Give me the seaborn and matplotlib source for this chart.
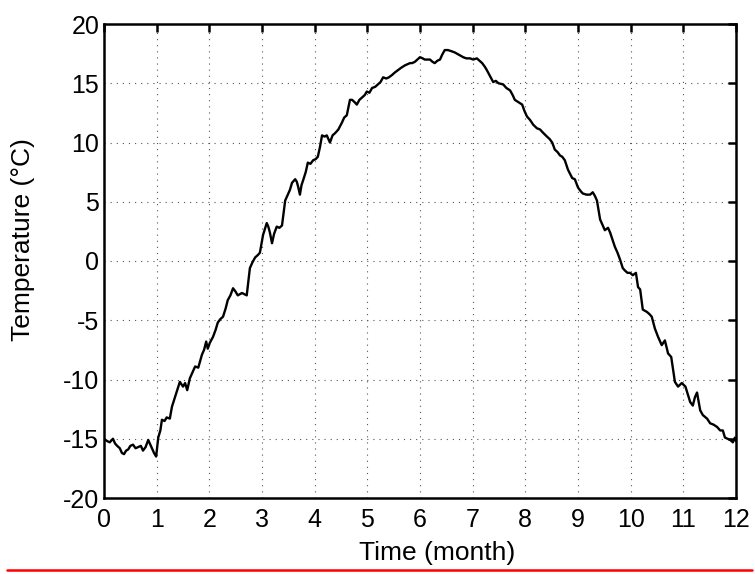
import matplotlib
matplotlib.use("Agg")
import matplotlib.pyplot as plt
from matplotlib.lines import Line2D
import seaborn as sns
import pandas as pd

# Temperature trace over one year
month = [
    0.00, 0.06, 0.11, 0.17, 0.21, 0.25, 0.30, 0.34, 0.38, 0.42, 0.46, 0.50, 0.55, 0.60,
    0.65, 0.70, 0.74, 0.79, 0.84, 0.88, 0.91, 0.95, 0.99,
    1.03, 1.07, 1.10, 1.15, 1.19, 1.25, 1.29, 1.34, 1.39, 1.44, 1.50, 1.54, 1.58, 1.63,
    1.68, 1.73, 1.79, 1.86, 1.90, 1.94, 1.97, 2.01, 2.07, 2.12, 2.16, 2.21, 2.26, 2.31,
    2.35, 2.40, 2.45, 2.50, 2.54, 2.62, 2.71,
    2.77, 2.82, 2.87, 2.92, 2.96, 3.02, 3.09, 3.12, 3.15, 3.19, 3.23, 3.28, 3.33, 3.38,
    3.44, 3.49, 3.53, 3.57, 3.63, 3.66, 3.69, 3.72, 3.75, 3.78, 3.83, 3.87, 3.92, 3.97,
    4.02, 4.06, 4.10, 4.14, 4.19, 4.23, 4.29, 4.34, 4.39, 4.45, 4.52, 4.56, 4.61, 4.67,
    4.71, 4.76, 4.80, 4.85, 4.90, 4.95, 4.99, 5.04, 5.09, 5.15, 5.20, 5.25, 5.30, 5.36,
    5.41, 5.47, 5.52, 5.58, 5.64, 5.71, 5.76, 5.81, 5.85, 5.90, 5.95, 6.00, 6.05, 6.09,
    6.14, 6.19, 6.24, 6.28, 6.33, 6.38, 6.42, 6.47, 6.53, 6.60, 6.66, 6.74, 6.82, 6.88,
    6.95, 7.01, 7.08, 7.13, 7.18, 7.23, 7.27, 7.33, 7.39, 7.44, 7.49, 7.58, 7.64, 7.71,
    7.76, 7.80, 7.87, 7.94, 7.98, 8.03, 8.09, 8.15, 8.22, 8.28, 8.32, 8.41, 8.46, 8.51,
    8.56, 8.61, 8.66, 8.70, 8.75, 8.81, 8.89, 8.94, 9.00, 9.05, 9.09, 9.16, 9.23, 9.28,
    9.32, 9.36, 9.42, 9.47, 9.51, 9.57, 9.61, 9.64, 9.70, 9.75, 9.80, 9.85, 9.89, 9.94,
    9.99, 10.04, 10.10, 10.14, 10.18, 10.23, 10.31, 10.36, 10.40, 10.46, 10.52, 10.59,
    10.65, 10.71, 10.77, 10.84, 10.90, 10.97, 11.04, 11.13, 11.18, 11.22, 11.26, 11.32,
    11.37, 11.45, 11.51, 11.57, 11.64, 11.70, 11.75, 11.79, 11.89, 11.94, 11.98, 12.00,
]
temperature = [
    -15.0, -15.2, -15.3, -15.0, -15.4, -15.6, -15.8, -16.2, -16.3, -16.0, -15.9, -15.6, -15.5, -15.8,
    -15.7, -15.6, -16.0, -15.7, -15.1, -15.5, -15.8, -16.2, -16.5,
    -14.9, -14.3, -13.4, -13.5, -13.2, -13.3, -12.3, -11.6, -10.9, -10.2, -10.6, -10.3, -10.9, -9.9,
    -9.4, -8.9, -9.0, -7.9, -7.5, -6.8, -7.4, -6.9, -6.4, -5.8, -5.2, -4.9, -4.7, -4.0,
    -3.3, -2.9, -2.3, -2.6, -2.9, -2.7, -2.9,
    -0.6, -0.1, 0.3, 0.5, 0.7, 2.2, 3.2, 2.9, 2.4, 1.5, 2.3, 2.9, 2.8, 3.0,
    5.1, 5.6, 6.0, 6.6, 6.9, 6.7, 6.2, 5.6, 6.4, 6.8, 7.5, 8.3, 8.2, 8.5,
    8.6, 8.8, 9.6, 10.6, 10.5, 10.6, 10.0, 10.6, 10.8, 11.1, 11.7, 12.1, 12.3, 13.6,
    13.6, 13.4, 13.2, 13.6, 13.8, 14.0, 14.3, 14.2, 14.6, 14.7, 14.9, 15.1, 15.5, 15.4,
    15.5, 15.7, 15.9, 16.1, 16.3, 16.5, 16.6, 16.7, 16.7, 16.8, 17.0, 17.2, 17.1, 17.0,
    17.0, 17.0, 16.8, 16.7, 16.9, 17.0, 17.4, 17.8, 17.8, 17.7, 17.6, 17.4, 17.2, 17.1,
    17.1, 17.0, 17.1, 16.9, 16.7, 16.4, 16.1, 15.6, 15.1, 15.2, 15.0, 14.9, 14.6, 14.4,
    14.0, 13.6, 13.4, 13.2, 12.7, 12.2, 11.9, 11.5, 11.2, 11.1, 10.9, 10.5, 10.3, 10.0,
    9.4, 9.2, 8.9, 8.8, 8.5, 7.7, 7.0, 6.9, 6.2, 5.9, 5.7, 5.6, 5.6, 5.8,
    5.5, 5.1, 3.5, 3.0, 2.6, 2.8, 2.4, 2.0, 1.2, 0.7, 0.1, -0.6, -0.8, -1.0,
    -1.0, -1.2, -1.0, -2.2, -2.4, -4.1, -4.3, -4.5, -4.7, -5.7, -6.4, -7.1,
    -6.7, -7.8, -8.1, -10.2, -10.6, -10.3, -10.6, -11.9, -12.2, -11.5, -11.1, -12.6,
    -13.0, -13.3, -13.7, -13.8, -14.0, -14.3, -14.3, -14.9, -15.1, -15.3, -14.9, -15.2,
]
x_ticks = list(range(0, 13))
y_ticks = list(range(-20, 21, 5))

sns.set_style("white")
plt.rcParams["font.family"] = ["Liberation Sans", "DejaVu Sans"]
plt.rcParams["axes.unicode_minus"] = False

df = pd.DataFrame({"month": month, "temperature": temperature})

fig = plt.figure(figsize=(7.55, 5.74), dpi=100)
ax = fig.add_axes([104 / 755, 1 - 498 / 574, 632 / 755, 474 / 574])

sns.lineplot(data=df, x="month", y="temperature", ax=ax, color="black",
             linewidth=1.7, sort=False)

ax.set_xlim(0, 12)
ax.set_ylim(-20, 20)
ax.set_xticks(x_ticks)
ax.set_yticks(y_ticks)
ax.grid(True, linestyle=(0, (1, 4.5)), linewidth=0.8, color="#555555")

for side in ["top", "right", "bottom", "left"]:
    ax.spines[side].set_visible(True)
    ax.spines[side].set_color("black")
    ax.spines[side].set_linewidth(1.8)

ax.tick_params(axis="both", which="major", direction="in", length=5.5, width=1.8,
               top=True, right=True, labelsize=18, colors="black")
ax.tick_params(axis="x", pad=7)
ax.tick_params(axis="y", pad=3.5)

ax.set_xlabel("Time (month)", fontsize=19, color="black")
ax.set_ylabel("Temperature (°C)", fontsize=19, color="black")
ax.xaxis.set_label_coords(0.527, -0.09)
ax.yaxis.set_label_coords(-0.109, 0.546)

# Red rule under the figure
fig.add_artist(Line2D([7 / 755, 752 / 755], [1 - 570 / 574, 1 - 570 / 574],
                      color="red", linewidth=1.8, transform=fig.transFigure))

fig.savefig("out.png", dpi=100)
